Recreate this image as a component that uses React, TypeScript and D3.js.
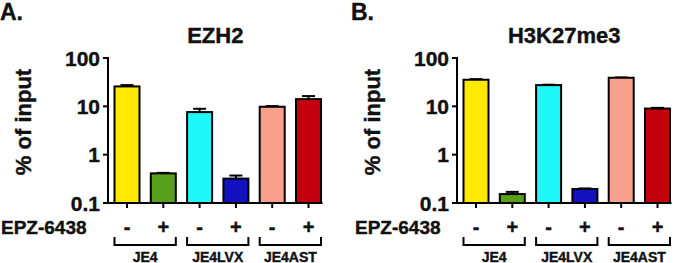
import React from "react";
import * as d3 from "d3";

const conditions = ["JE4 -", "JE4 +", "JE4LVX -", "JE4LVX +", "JE4AST -", "JE4AST +"];
const treatment = ["-", "+", "-", "+", "-", "+"];
const groups = ["JE4", "JE4LVX", "JE4AST"];
const barColors = ["#FFE900", "#58A01A", "#1EF8F8", "#1212C0", "#F9A08C", "#C4000C"];

const ezh2Values = [25.8, 0.41, 7.6, 0.32, 9.8, 14.1];
const ezh2Errors = [27.5, 0.42, 8.9, 0.37, 10.1, 16.3];
const h3Values = [35.5, 0.153, 27.5, 0.195, 39, 9.0];
const h3Errors = [36.5, 0.17, 28.0, 0.2, 39.6, 9.3];

const yTicks = [0.1, 1, 10, 100];
const yTickLabels = ["0.1", "1", "10", "100"];

const FONT = "'Liberation Sans', Arial, Helvetica, sans-serif";

type PanelProps = {
  letter: string;
  letterX: number;
  title: string;
  values: number[];
  errors: number[];
  x0: number;
  titleYX: number;
  epzX: number;
};

function Panel({ letter, letterX, title, values, errors, x0, titleYX, epzX }: PanelProps) {
  const y = d3.scaleLog().domain([0.1, 100]).range([203, 58]);
  const step = 36.3;
  const x = d3
    .scalePoint<string>()
    .domain(conditions)
    .range([x0 + 19, x0 + 19 + step * 5]);
  const bw = 25;
  const xEnd = (x(conditions[5]) as number) + 14;
  const base = y(0.1);
  return (
    <g fontFamily={FONT} fontWeight="bold" fill="#111" stroke="#111" strokeWidth={0.4}>
      <text x={letterX} y={19.5} fontSize={23}>{letter}</text>
      <text x={(x0 + xEnd) / 2} y={43} fontSize={22} textAnchor="middle">{title}</text>
      <text
        transform={`translate(${titleYX},122) rotate(-90)`}
        fontSize={22}
        textAnchor="middle"
      >
        % of input
      </text>
      {/* bars */}
      {conditions.map((c, i) => {
        const cx = x(c) as number;
        const top = y(values[i]);
        const et = y(errors[i]);
        return (
          <g key={c}>
            <line x1={cx} x2={cx} y1={top} y2={et} stroke="#000" strokeWidth={2} />
            <line x1={cx - 6.5} x2={cx + 6.5} y1={et} y2={et} stroke="#000" strokeWidth={2} />
            <rect
              x={cx - bw / 2}
              y={top}
              width={bw}
              height={base - top}
              fill={barColors[i]}
              stroke="#000"
              strokeWidth={2}
            />
            <line x1={cx} x2={cx} y1={base} y2={base + 5} stroke="#000" strokeWidth={2} />
            <text x={cx} y={234} fontSize={20} textAnchor="middle">{treatment[i]}</text>
          </g>
        );
      })}
      {/* y axis */}
      <line x1={x0} x2={x0} y1={y(100) - 1} y2={base} stroke="#000" strokeWidth={2} />
      {yTicks.map((t, i) => (
        <g key={t}>
          <line x1={x0 - 5} x2={x0} y1={y(t)} y2={y(t)} stroke="#000" strokeWidth={2} />
          <text x={x0 - 8} y={y(t) + 7.5} fontSize={21} textAnchor="end">{yTickLabels[i]}</text>
        </g>
      ))}
      {/* x axis */}
      <line x1={x0 - 1} x2={xEnd} y1={base} y2={base} stroke="#000" strokeWidth={2} />
      <text x={epzX} y={234} fontSize={19}>EPZ-6438</text>
      {groups.map((g, gi) => {
        const l = (x(conditions[gi * 2]) as number) - bw / 2;
        const r = (x(conditions[gi * 2 + 1]) as number) + bw / 2;
        return (
          <g key={g}>
            <path
              d={`M${l},237 V245 H${r} V237`}
              fill="none"
              stroke="#000"
              strokeWidth={2}
            />
            <text x={(l + r) / 2} y={261.5} fontSize={14} textAnchor="middle">{g}</text>
          </g>
        );
      })}
    </g>
  );
}

export default function App() {
  return (
    <svg
      width={676}
      height={263}
      style={{ position: "absolute", left: 0, top: 0, background: "#fff" }}
    >
      <rect width={676} height={263} fill="#fff" />
      <Panel
        letter="A."
        letterX={0}
        title="EZH2"
        values={ezh2Values}
        errors={ezh2Errors}
        x0={108}
        titleYX={31}
        epzX={1}
      />
      <Panel
        letter="B."
        letterX={351}
        title="H3K27me3"
        values={h3Values}
        errors={h3Errors}
        x0={457}
        titleYX={380}
        epzX={355}
      />
    </svg>
  );
}
